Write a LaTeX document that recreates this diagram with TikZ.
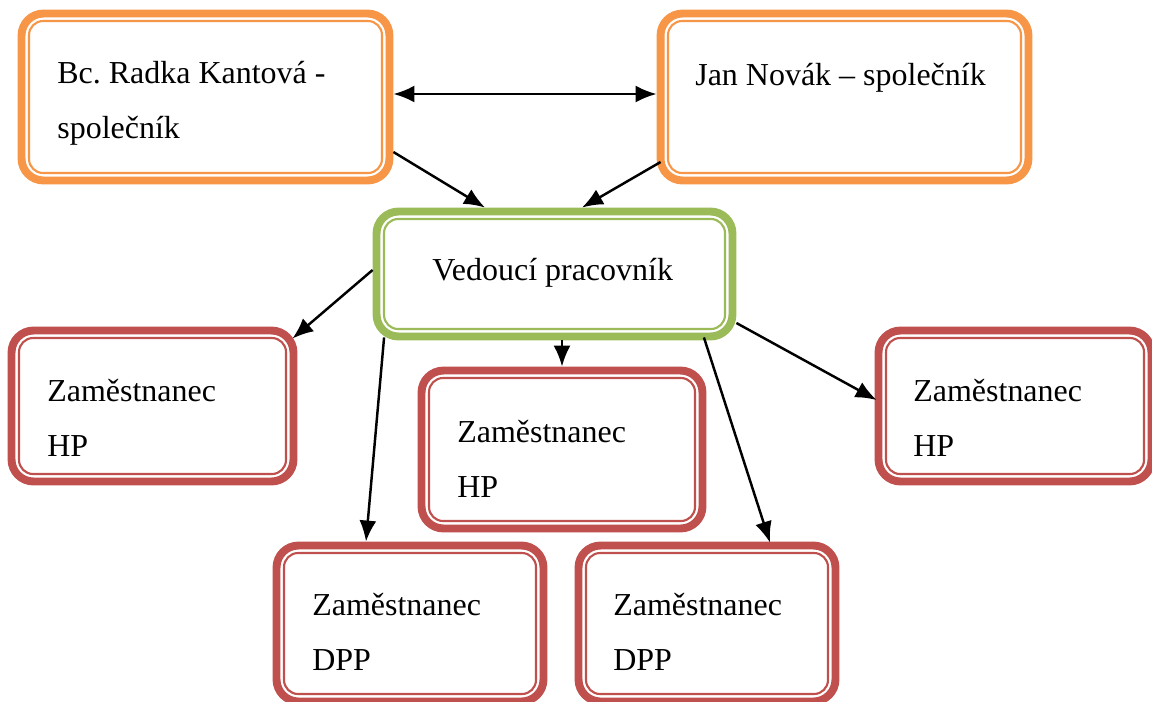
\documentclass[tikz,border=0pt]{standalone}
\usepackage{fontspec}
\setmainfont{Liberation Serif}
\usetikzlibrary{arrows.meta,positioning}

\definecolor{ownerorange}{HTML}{F79646}
\definecolor{headgreen}{HTML}{9BBB59}
\definecolor{staffred}{HTML}{C0504D}

\tikzset{
  card/.style={draw=#1, line width=4.5pt, rounded corners=0.44cm, fill=white, inner sep=0pt,
    path picture={\draw[#1, line width=1.2pt, rounded corners=0.28cm]
      ([shift={(0.15cm,0.15cm)}]path picture bounding box.south west) rectangle
      ([shift={(-0.15cm,-0.15cm)}]path picture bounding box.north east);}},
  txt/.style={font=\fontsize{18.2pt}{31.5pt}\selectfont, align=left, inner sep=0pt, anchor=north west},
  tip/.tip={Latex[length=0.42cm,width=0.34cm]},
  conn/.style={line width=1.4pt, -tip},
}

\begin{document}
\frenchspacing
\begin{tikzpicture}[x=0.02cm,y=-0.02cm]
  \useasboundingbox (0,0) rectangle (1152,701);

  % spolecnici
  \node [card=ownerorange, minimum width=7.36cm, minimum height=3.34cm] (rk) at (205.5,97) {};
  \node [card=ownerorange, minimum width=7.36cm, minimum height=3.34cm] (jn) at (844.5,97) {};
  \node [txt] (rk-t) at (57,61) {Bc. Radka Kantová -\\společník};
  \node [txt] (jn-t) at (695,63) {Jan Novák – společník};

  % vedouci
  \node [card=headgreen, minimum width=7.12cm, minimum height=2.5cm] (ved) at (554.5,274) {};
  \node [txt] (ved-t) at (432,258) {Vedoucí pracovník};

  % zamestnanci
  \node [card=staffred, minimum width=5.64cm, minimum height=3.02cm] (hp1) at (152.5,406) {};
  \node [card=staffred, minimum width=5.62cm, minimum height=3.16cm] (hp2) at (562,449.5) {};
  \node [card=staffred, minimum width=5.46cm, minimum height=3.02cm] (hp3) at (1015,406) {};
  \node [card=staffred, minimum width=5.34cm, minimum height=3.12cm] (dpp1) at (410,623.5) {};
  \node [card=staffred, minimum width=5.14cm, minimum height=3.12cm] (dpp2) at (707,623.5) {};
  \node [txt] (hp1-t) at (47,379) {Zaměstnanec\\HP};
  \node [txt] (hp2-t) at (457,420) {Zaměstnanec\\HP};
  \node [txt] (hp3-t) at (913,379) {Zaměstnanec\\HP};
  \node [txt] (dpp1-t) at (312,593) {Zaměstnanec\\DPP};
  \node [txt] (dpp2-t) at (613,593) {Zaměstnanec\\DPP};

  % spojnice
  \draw [conn, tip-tip] ([shift={(0,-3)}]rk.east) -- ([shift={(0,-3)}]jn.west);
  \draw [conn] ([shift={(0,55)}]rk.east) -- ([shift={(-69.5,0)}]ved.north);
  \draw [conn] ([shift={(4,65)}]jn.west) -- ([shift={(27.5,0)}]ved.north);
  \draw [conn] ([shift={(0,-4)}]ved.west) -- ([shift={(-5,12)}]hp1.north east);
  \draw [conn] ([shift={(11.5,-3)}]ved.south west) -- ([shift={(-44,0)}]dpp1.north);
  \draw [conn] (hp2.north |- ved.south) -- (hp2.north);
  \draw [conn] ([shift={(-32.5,-3)}]ved.south east) -- ([shift={(63,1)}]dpp2.north);
  \draw [conn] ([shift={(0,49)}]ved.east) -- ([shift={(2,-6)}]hp3.west);
\end{tikzpicture}
\end{document}
